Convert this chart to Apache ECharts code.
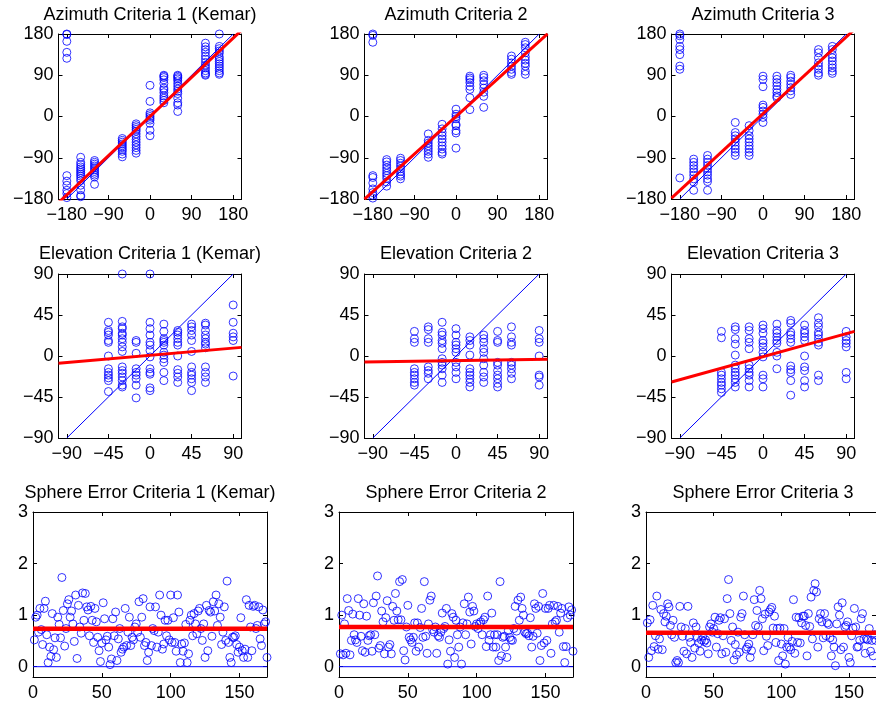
<!DOCTYPE html>
<html><head><meta charset="utf-8">
<script src="https://cdn.jsdelivr.net/npm/echarts@6/dist/echarts.min.js"></script>
<style>html,body{margin:0;padding:0;background:#fff}#chart{width:876px;height:704px}</style>
</head><body><div id="chart"></div>
<script>
// ---------- DATA ----------
const titles = [
  'Azimuth Criteria 1 (Kemar)', 'Azimuth Criteria 2', 'Azimuth Criteria 3',
  'Elevation Criteria 1 (Kemar)', 'Elevation Criteria 2', 'Elevation Criteria 3',
  'Sphere Error Criteria 1 (Kemar)', 'Sphere Error Criteria 2', 'Sphere Error Criteria 3'
];
const azTicks = [-180, -90, 0, 90, 180];
const elTicks = [-90, -45, 0, 45, 90];
const sphXTicks = [0, 50, 100, 150];
const sphYTicks = [0, 1, 2, 3];

const azTargets = [-180, -150, -120, -60, -30, 0, 30, 60, 120, 150];
const az1Resp = [
  [180, 179, 164, 140, 127, -129, -141, -150, -161, -168, -177],
  [-89, -100, -105, -110, -114, -118, -122, -126, -130, -135, -140, -150, -160, -172, -175],
  [-96, -100, -104, -108, -112, -116, -120, -124, -128, -132, -148],
  [-48, -52, -56, -60, -64, -68, -72, -76, -82, -88],
  [-16, -20, -24, -28, -32, -38, -44, -50, -56, -62, -68, -74, -80],
  [68, 33, 8, 4, 0, -4, -8, -15, -30, -42],
  [90, 88, 85, 80, 72, 62, 58, 52, 45, 40, 35, 30],
  [90, 88, 85, 82, 78, 72, 66, 60, 55, 50, 40, 30, 25, 11],
  [160, 152, 146, 140, 132, 125, 118, 112, 106, 100, 95, 92, 90],
  [180, 153, 148, 143, 138, 130, 125, 120, 115, 110, 105, 100, 95, 92]
];
const az2Resp = [
  [180, 177, 162, -129, -133, -145, -158, -166, -172, -178],
  [-94, -99, -106, -112, -118, -124, -129, -135, -143, -152],
  [-91, -96, -102, -108, -114, -120, -126, -130, -136],
  [-38, -52, -58, -64, -70, -76, -82, -89],
  [-17, -27, -35, -42, -49, -56, -64, -71, -78, -82],
  [16, 5, 0, -5, -17, -20, -31, -36, -69],
  [88, 84, 80, 74, 66, 59, 41, 15],
  [90, 85, 78, 70, 62, 53, 44, 20],
  [132, 125, 117, 110, 103, 96, 92],
  [162, 157, 150, 139, 130, 123, 116, 110, 99, 92]
];
const az3Resp = [
  [180, 176, 168, 153, 146, 135, 110, 103, -134],
  [-93, -100, -107, -114, -121, -128, -136, -143, -161],
  [-85, -93, -100, -107, -114, -121, -128, -136, -142, -161],
  [-13, -35, -42, -49, -56, -64, -71, -78, -85],
  [-20, -31, -42, -49, -56, -64, -71, -78, -85],
  [88, 81, 65, 25, 20, 12, 5, -2, -13],
  [88, 81, 74, 67, 59, 52, 45, 41],
  [90, 85, 77, 70, 63, 56, 48],
  [146, 139, 128, 117, 110, 103, 95, 90],
  [153, 146, 135, 128, 121, 113, 106, 99, 94]
];

const elTargets = [-45, -30, -15, 0, 15, 30, 45, 60, 90];
const el1Resp = [
  [37, 28, 26, 23, 17, 15, 0, -14, -18, -21, -24, -27, -39],
  [90, 38, 32, 30, 25, 23, 19, 15, 10, 5, -12, -16, -19, -23, -27, -32, -34],
  [17, 15, 3, -14, -18, -21, -25, -32, -46],
  [90, 37, 30, 23, 15, 12, 6, -1, -14, -18, -20, -35, -38],
  [35, 27, 19, 17, 15, 12, 4, 1, -3, -7, -18, -27],
  [28, 26, 23, 19, 15, 12, 0, -15, -19, -23, -29],
  [35, 32, 28, 23, 17, 5, -12, -18, -21, -25, -29, -38],
  [36, 34, 28, 23, 19, 15, 13, 9, -12, -18, -23, -29],
  [56, 37, 25, 21, 17, -22]
];
const el2Resp = [
  [27, 19, 15, -14, -18, -21, -25, -29, -32],
  [32, 29, 19, 15, -12, -16, -19, -25],
  [37, 26, 23, 17, 14, 8, -3, -7, -10, -14, -21, -29],
  [30, 23, 15, 12, 8, 4, -7, -12, -18, -25],
  [21, 17, 12, 1, -14, -18, -21, -25, -29, -34],
  [23, 19, 15, 8, 4, -3, -10, -18, -23, -29],
  [27, 17, 15, -7, -10, -16, -21, -25, -30, -34],
  [32, 21, 15, 12, -7, -10, -14, -19, -25],
  [28, 19, 15, 0, -21, -23, -32]
];
const el3Resp = [
  [27, 20, -18, -21, -25, -29, -32, -36, -40],
  [32, 29, 19, 13, 1, -10, -14, -18, -21, -25, -29, -34],
  [32, 28, 19, 15, 8, -10, -14, -18, -21, -27, -34],
  [34, 30, 25, 17, 14, 10, 4, -1, -21, -25, -34],
  [35, 28, 25, 21, 17, 14, 4, 0, -14],
  [39, 36, 26, 23, 19, 15, -11, -15, -18, -27, -43],
  [34, 28, 25, 21, 17, 0, -12, -16, -27, -34],
  [42, 36, 32, 26, 23, 19, 15, 12, -21, -27],
  [27, 21, 17, 14, 10, -18, -25]
];

const sph1 = [
  0.52, 0.96, 1.0, 0.67, 1.13, 0.72, 0.43, 1.13, 1.27, 0.62,
  0.08, 0.38, 0.2, 1.03, 0.33, 0.56, 0.18, 0.96, 0.82, 0.56,
  1.73, 1.09, 0.4, 0.74, 1.22, 1.3, 0.96, 1.08, 0.83, 0.49,
  1.39, 0.16, 1.19, 0.77, 0.65, 1.43, 0.9, 1.42, 1.16, 1.1,
  0.6, 1.17, 0.9, 0.47, 1.13, 0.87, 0.57, 0.31, 0.1, 0.46,
  1.24, 0.93, 0.52, 0.59, 0.38, 0.04, 0.15, 0.93, 0.6, 1.06,
  0.12, 0.54, 0.74, 0.28, 0.34, 0.38, 1.13, 0.41, 0.67, 0.96,
  0.41, 0.57, 0.52, 0.77, 0.83, 0.67, 1.26, 0.57, 0.96, 1.32,
  0.41, 0.47, 0.12, 0.28, 1.16, 0.41, 0.74, 0.7, 1.16, 0.38,
  0.67, 1.39, 1.0, 0.34, 0.44, 0.9, 0.6, 0.9, 0.52, 1.39,
  0.47, 0.95, 0.47, 0.3, 1.39, 1.06, 0.08, 0.44, 0.3, 0.46,
  0.82, 0.08, 0.25, 0.9, 1.0, 0.6, 1.03, 0.83, 0.64, 1.08,
  1.13, 0.74, 0.51, 0.83, 0.18, 1.19, 0.31, 1.09, 1.06, 0.59,
  1.26, 1.08, 1.39, 0.8, 1.22, 0.96, 0.43, 0.67, 1.16, 0.51,
  1.66, 0.47, 0.18, 0.08, 0.57, 0.57, 0.6, 0.43, 0.28, 0.38,
  0.95, 0.31, 0.18, 0.34, 1.3, 0.18, 1.19, 0.77, 0.31, 1.17,
  1.19, 0.74, 0.8, 1.16, 0.54, 0.41, 1.1, 0.83, 0.87, 0.18
];
const sph2 = [
  0.25, 1.0, 0.23, 0.83, 0.26, 1.32, 1.09, 0.23, 0.51, 1.02,
  0.62, 0.52, 0.47, 1.32, 1.0, 0.59, 0.31, 1.22, 0.28, 0.98,
  0.51, 0.6, 0.62, 0.3, 1.24, 0.62, 1.37, 1.76, 0.36, 0.41,
  1.08, 0.87, 0.25, 0.95, 1.28, 0.38, 0.43, 0.25, 1.17, 0.9,
  1.42, 1.08, 0.91, 1.65, 0.91, 1.69, 0.31, 0.13, 0.77, 1.19,
  0.57, 0.52, 0.47, 0.57, 0.85, 0.3, 0.85, 0.38, 0.76, 1.13,
  0.57, 1.65, 0.59, 0.26, 0.83, 1.29, 1.37, 0.72, 0.67, 0.77,
  0.26, 0.6, 0.57, 0.67, 1.04, 0.74, 0.78, 1.13, 0.05, 0.52,
  0.3, 1.03, 0.96, 0.18, 0.9, 0.62, 0.38, 0.77, 0.05, 0.85,
  1.22, 0.62, 0.83, 1.35, 1.06, 0.44, 1.17, 1.08, 0.78, 0.83,
  0.74, 0.83, 0.87, 0.62, 0.91, 0.96, 0.39, 1.37, 0.51, 0.62,
  1.04, 0.38, 0.62, 0.38, 0.62, 0.12, 1.65, 0.21, 0.57, 0.59,
  0.38, 0.18, 0.7, 0.57, 0.52, 0.51, 0.74, 1.17, 0.69, 1.29,
  0.9, 1.35, 1.13, 1.0, 0.67, 0.64, 0.65, 0.6, 0.95, 0.38,
  0.59, 1.22, 1.13, 0.65, 1.17, 0.12, 0.41, 1.42, 0.46, 1.13,
  0.51, 1.13, 1.19, 0.26, 0.83, 1.19, 0.87, 0.9, 1.17, 0.67,
  1.04, 1.13, 0.39, 0.08, 0.39, 0.95, 1.16, 1.0, 1.1, 0.3
];
const sph3 = [
  0.85, 0.18, 0.91, 0.31, 1.19, 0.39, 0.6, 1.37, 0.34, 0.54,
  1.11, 0.33, 1.03, 0.87, 0.98, 1.22, 1.16, 0.8, 0.62, 0.9,
  0.57, 0.08, 0.12, 0.08, 1.17, 0.77, 0.59, 0.3, 0.74, 0.25,
  1.17, 0.57, 0.47, 0.18, 0.85, 0.36, 0.77, 0.57, 0.46, 0.3,
  0.52, 0.6, 0.49, 0.52, 0.46, 0.25, 0.77, 0.83, 0.67, 0.74,
  0.96, 0.38, 0.64, 0.9, 0.95, 0.25, 0.6, 0.93, 0.28, 1.32,
  1.69, 1.03, 0.51, 0.77, 0.13, 0.43, 0.23, 0.67, 0.28, 0.96,
  1.03, 1.37, 0.62, 0.34, 0.38, 0.44, 0.18, 0.31, 0.62, 1.3,
  0.8, 1.09, 0.77, 1.48, 1.32, 0.93, 0.31, 1.02, 0.59, 0.41,
  1.06, 1.11, 1.15, 0.75, 0.98, 0.47, 0.74, 0.12, 0.75, 0.44,
  0.21, 0.74, 0.05, 0.38, 0.57, 0.38, 0.33, 0.49, 1.3, 0.26,
  0.96, 0.47, 0.95, 0.46, 0.85, 0.98, 0.98, 0.8, 0.21, 1.03,
  0.78, 1.35, 0.54, 1.48, 1.61, 1.45, 0.38, 0.93, 1.03, 0.87,
  0.56, 1.03, 0.6, 0.85, 0.82, 0.56, 0.21, 0.52, 0.38, 0.02,
  0.83, 1.16, 1.0, 0.33, 1.24, 0.38, 0.77, 0.8, 0.87, 0.18,
  0.08, 0.6, 0.75, 1.13, 0.77, 0.38, 0.39, 0.51, 0.93, 1.03,
  0.54, 0.26, 0.54, 0.52, 0.74, 0.3, 0.51, 0.21, 0.62, 0.51,
  0.7, 0.3
];

// regression lines: slope, intercept
const azFitSlope = [0.95, 0.91, 0.93];
const azFitIntercept = [0, 0, 6];
const elFitSlope = [0.088, 0.015, 0.28];
const elFitIntercept = [0.75, -5.1, -0.75];
const sphMean = [0.735, 0.768, 0.657];

// ---------- LAYOUT / STYLE ----------
const FONT = '"Liberation Sans", Arial, Helvetica, sans-serif';
const FS = 18;
const BLUE = '#0000ff', RED = '#ff0000';
const colCenters = [150, 456, 763];
const rowTops = [34, 274, 512];
const rowHeights = [165, 164, 165];
const titleYs = [15, 254, 493];
const AZX = 198, ELX = 99, SPHX = 170;

const fmt = v => String(v).replace('-', '\u2212');

const grids = [], xAxes = [], yAxes = [], series = [], graphics = [];

function mkAxis(gi, pos, min, max, ticks, labels) {
  const vertical = (pos === 'left' || pos === 'right');
  return {
    type: 'value', gridIndex: gi, position: pos, min: min, max: max,
    axisLine: { show: true, onZero: false, lineStyle: { color: '#000', width: 1 } },
    axisTick: { show: true, inside: true, length: 4, customValues: ticks, lineStyle: { color: '#000', width: 1 } },
    axisLabel: { show: labels, customValues: ticks, color: '#000', fontSize: FS, fontFamily: FONT,
                 margin: vertical ? 5 : 7, formatter: fmt },
    splitLine: { show: false }
  };
}

function addPanel(r, c, xr, yr, xt, yt) {
  const gi = grids.length;
  const w = r < 2 ? 183 : 234;
  grids.push({ left: colCenters[c] - w / 2, top: rowTops[r], width: w, height: rowHeights[r], containLabel: false });
  xAxes.push(mkAxis(gi, 'bottom', xr[0], xr[1], xt, true));
  xAxes.push(mkAxis(gi, 'top', xr[0], xr[1], xt, false));
  yAxes.push(mkAxis(gi, 'left', yr[0], yr[1], yt, true));
  yAxes.push(mkAxis(gi, 'right', yr[0], yr[1], yt, false));
  graphics.push({ type: 'text', x: colCenters[c], y: titleYs[r],
    style: { text: titles[gi], fill: '#000', fontSize: FS, fontFamily: FONT, align: 'center', verticalAlign: 'middle' } });
  return gi;
}

function scatterSeries(gi, data) {
  return { type: 'scatter', xAxisIndex: 2 * gi, yAxisIndex: 2 * gi, data: data, symbol: 'circle', symbolSize: 8,
    itemStyle: { color: 'rgba(0,0,0,0)', borderColor: BLUE, borderWidth: 1 }, z: 2, silent: true };
}
function lineSeries(gi, data, color, width, z) {
  return { type: 'line', xAxisIndex: 2 * gi, yAxisIndex: 2 * gi, data: data, symbol: 'none', clip: true,
    lineStyle: { color: color, width: width }, z: z, silent: true };
}
function flatten(targets, resp) {
  const out = [];
  targets.forEach((t, i) => resp[i].forEach(v => out.push([t, v])));
  return out;
}

const azResp = [az1Resp, az2Resp, az3Resp];
for (let k = 0; k < 3; k++) {
  const gi = addPanel(0, k, [-AZX, AZX], [-180, 180], azTicks, azTicks);
  series.push(scatterSeries(gi, flatten(azTargets, azResp[k])));
  series.push(lineSeries(gi, [[-180, -180], [180, 180]], BLUE, 1, 3));
  const s = azFitSlope[k], b = azFitIntercept[k];
  series.push(lineSeries(gi, [[-AZX, s * -AZX + b], [AZX, s * AZX + b]], RED, 3, 4));
}
const elResp = [el1Resp, el2Resp, el3Resp];
for (let k = 0; k < 3; k++) {
  const gi = addPanel(1, k, [-ELX, ELX], [-90, 90], elTicks, elTicks);
  series.push(scatterSeries(gi, flatten(elTargets, elResp[k])));
  series.push(lineSeries(gi, [[-90, -90], [90, 90]], BLUE, 1, 3));
  const s = elFitSlope[k], b = elFitIntercept[k];
  series.push(lineSeries(gi, [[-ELX, s * -ELX + b], [ELX, s * ELX + b]], RED, 3, 4));
}
const sph = [sph1, sph2, sph3];
for (let k = 0; k < 3; k++) {
  const gi = addPanel(2, k, [0, SPHX], [-0.2, 3], sphXTicks, sphYTicks);
  series.push(scatterSeries(gi, sph[k].map((v, i) => [i + 1, v])));
  series.push(lineSeries(gi, [[0, 0], [SPHX, 0]], BLUE, 1, 3));
  series.push(lineSeries(gi, [[0, sphMean[k]], [SPHX, sphMean[k]]], RED, 4.5, 4));
}

const chart = echarts.init(document.getElementById('chart'), null, { renderer: 'canvas' });
chart.setOption({
  animation: false,
  backgroundColor: '#fff',
  grid: grids, xAxis: xAxes, yAxis: yAxes, series: series, graphic: graphics
});
</script></body></html>
